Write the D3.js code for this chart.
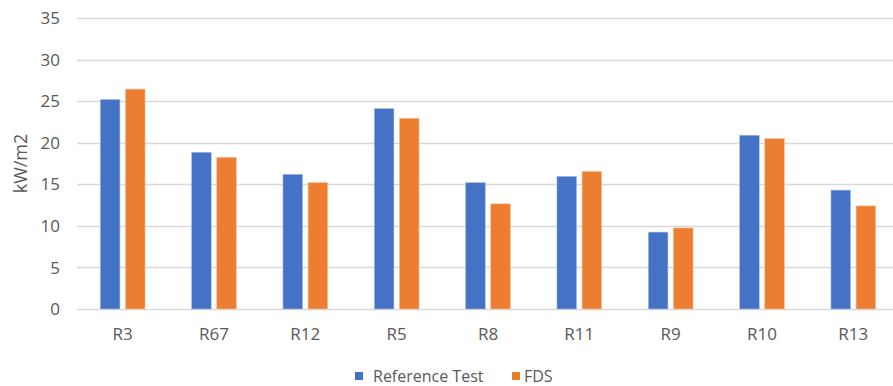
<!DOCTYPE html>
<html>
<head>
<meta charset="utf-8">
<script src="https://cdn.jsdelivr.net/npm/d3@7"></script>
<style>
  html, body { margin: 0; padding: 0; background: #fff; }
  svg { display: block; }
  text { font-family: "Open Sans", "Liberation Sans", sans-serif; fill: #595959; }
</style>
</head>
<body>
<div id="chart"></div>
<script>
// Heat flux per sensor: measured reference test vs. FDS simulation
const categories = ["R3", "R67", "R12", "R5", "R8", "R11", "R9", "R10", "R13"];
const referenceTest = [25.2, 18.85, 16.2, 24.1, 15.2, 15.95, 9.25, 20.9, 14.3];
const fds = [26.45, 18.25, 15.2, 22.95, 12.65, 16.55, 9.75, 20.5, 12.4];
const seriesNames = ["Reference Test", "FDS"];
const seriesColors = ["#4472C4", "#ED7D31"];
const yTicks = [0, 5, 10, 15, 20, 25, 30, 35];

const width = 893, height = 386;
const margin = { left: 77, right: -6, top: 18, bottom: 77 };

const svg = d3.select("#chart").append("svg")
  .attr("width", width).attr("height", height);

const x = d3.scaleBand()
  .domain(categories)
  .range([margin.left, width - margin.right]);

const y = d3.scaleLinear()
  .domain([0, 35])
  .range([height - margin.bottom, margin.top]);

// horizontal gridlines
svg.append("g")
  .selectAll("line")
  .data(yTicks)
  .join("line")
  .attr("x1", margin.left)
  .attr("x2", width)
  .attr("y1", d => Math.round(y(d)) + 0.5)
  .attr("y2", d => Math.round(y(d)) + 0.5)
  .attr("stroke", "#d9d9d9")
  .attr("stroke-width", 1.3);

// y tick labels
svg.append("g")
  .selectAll("text")
  .data(yTicks)
  .join("text")
  .attr("x", 60)
  .attr("y", d => y(d))
  .attr("dy", "0.36em")
  .attr("text-anchor", "end")
  .style("font-size", "17px")
  .text(d => d);

// y axis title
svg.append("text")
  .attr("transform", `translate(27,${(y(0) + y(35)) / 2}) rotate(-90)`)
  .attr("text-anchor", "middle")
  .style("font-size", "18px")
  .text("kW/m2");

// bars
const step = x.bandwidth();
const barW = step * 0.215;
const innerGap = step * 0.06;
const rows = categories.map((c, i) => ({ c, vals: [referenceTest[i], fds[i]] }));

const groups = svg.append("g")
  .selectAll("g")
  .data(rows)
  .join("g")
  .attr("transform", d => `translate(${x(d.c) + step / 2},0)`);

groups.selectAll("rect")
  .data(d => d.vals.map((v, k) => ({ v, k })))
  .join("rect")
  .attr("x", d => d.k === 0 ? -innerGap / 2 - barW : innerGap / 2)
  .attr("width", barW)
  .attr("y", d => y(d.v))
  .attr("height", d => y(0) - y(d.v))
  .attr("fill", d => seriesColors[d.k])
  .attr("stroke", d => d.k === 0 ? "#a9bde6" : "#f6c3a0")
  .attr("stroke-width", 0.6);

// x category labels
svg.append("g")
  .selectAll("text")
  .data(categories)
  .join("text")
  .attr("x", d => x(d) + step / 2)
  .attr("y", 339.5)
  .attr("text-anchor", "middle")
  .style("font-size", "17px")
  .text(d => d);

// legend
const legendItems = [
  { name: seriesNames[0], color: seriesColors[0], sx: 355, tx: 373 },
  { name: seriesNames[1], color: seriesColors[1], sx: 512, tx: 524 }
];
const lg = svg.append("g");
lg.selectAll("rect")
  .data(legendItems)
  .join("rect")
  .attr("x", d => d.sx)
  .attr("y", 372)
  .attr("width", 8)
  .attr("height", 8)
  .attr("fill", d => d.color);
lg.selectAll("text")
  .data(legendItems)
  .join("text")
  .attr("x", d => d.tx)
  .attr("y", 381.5)
  .style("font-size", "16px")
  .text(d => d.name);
</script>
</body>
</html>
